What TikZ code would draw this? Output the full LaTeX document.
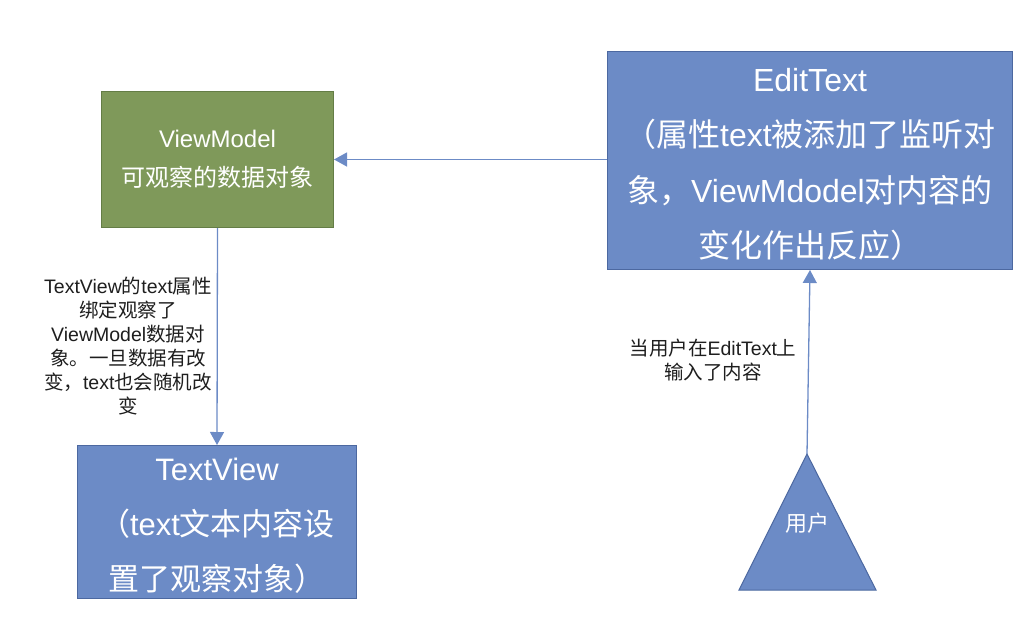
\documentclass[tikz,border=0pt]{standalone}
\usepackage{fontspec}
\setmainfont{Noto Sans CJK SC}
\newfontfamily\latf{Liberation Sans}
\newcommand{\Lt}[1]{{\latf #1}}
\usetikzlibrary{arrows.meta}
\definecolor{gfill}{RGB}{127,153,90}
\definecolor{gdraw}{RGB}{100,125,70}
\definecolor{bfill}{RGB}{108,139,198}
\definecolor{bdraw}{RGB}{76,104,160}
\definecolor{arrc}{RGB}{108,139,198}
\definecolor{txt}{RGB}{30,30,30}
\tikzset{
  gbox/.style={draw=gdraw, fill=gfill, line width=1pt, anchor=north west, inner sep=0pt},
  bbox/.style={draw=bdraw, fill=bfill, line width=1pt, anchor=north west, inner sep=0pt},
  boxtext/.style={text=white, align=center, inner sep=0pt},
  arr/.style={draw=arrc, line width=1.3pt, -{Triangle[width=14pt,length=13pt]}},
  lbl/.style={text=txt, align=center, inner sep=0pt}
}
\begin{document}
\begin{tikzpicture}[x=1pt,y=-1pt]
\useasboundingbox (0,0) rectangle (1032,626);
\node[gbox, minimum width=232pt, minimum height=136pt] (vm) at (101,91) {};
\node[boxtext, font=\fontsize{24}{39}\selectfont] (vmt) at (vm.center)
  {\Lt{ViewModel}\\可观察的数据对象};
\node[bbox, minimum width=405pt, minimum height=218pt] (et) at (607,51) {};
\node[boxtext, font=\fontsize{32}{55.5}\selectfont] (ett) at ([yshift=-4pt]et.center)
  {\Lt{EditText}\\（属性\Lt{text}被添加了监听对\\象，\Lt{ViewMdodel}对内容的\\变化作出反应）};
\node[bbox, minimum width=279pt, minimum height=153pt] (tv) at (77,445) {};
\node[boxtext, font=\fontsize{31}{55}\selectfont] (tvt) at ([yshift=-4pt]tv.center)
  {\Lt{TextView}\\（\Lt{text}文本内容设\\置了观察对象）};
\coordinate (apex) at (807,454);
\coordinate (bl) at (739,590);
\coordinate (br) at (876,590);
\draw[draw=bdraw, fill=bfill, line width=1pt] (apex) -- (br) -- (bl) -- cycle;
\node[text=white, inner sep=0pt, font=\fontsize{22}{26}\selectfont] (user) at (807,523) {用户};
\draw[arr] (vm.east -| et.west) -- (vm.east);
\draw[arr] (vm.south) -- (tv.north);
\draw[arr] (apex) -- (et.south);
\node[lbl, font=\fontsize{19.5}{24}\selectfont] (l1) at (128,346)
  {\Lt{TextView}的\Lt{text}属性\\绑定观察了\\\Lt{ViewModel}数据对\\象。一旦数据有改\\变，\Lt{text}也会随机改\\变};
\node[lbl, font=\fontsize{19.5}{24}\selectfont] (l2) at (713,360)
  {当用户在\Lt{EditText}上\\输入了内容};
\end{tikzpicture}
\end{document}
